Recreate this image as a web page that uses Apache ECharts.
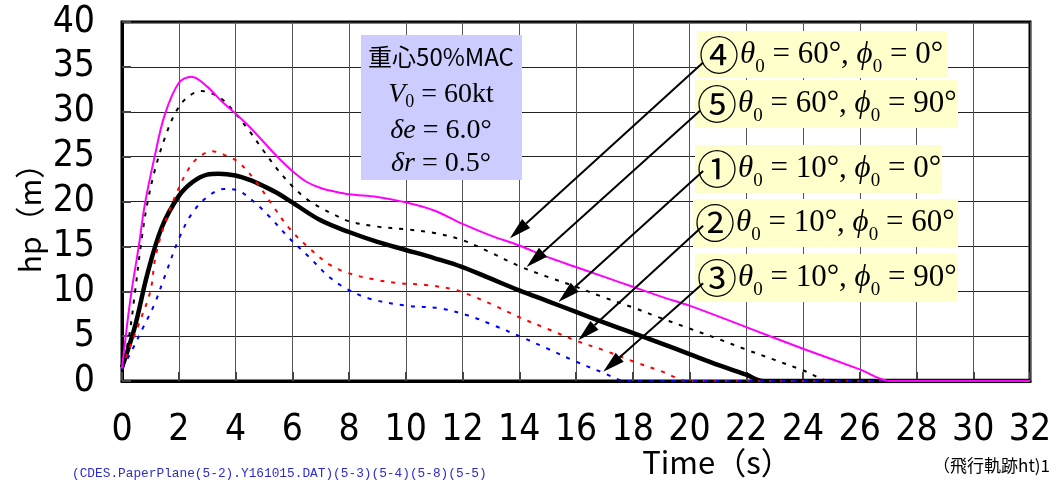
<!DOCTYPE html>
<html>
<head>
<meta charset="utf-8">
<script src="https://cdn.jsdelivr.net/npm/echarts@6/dist/echarts.min.js"></script>
<style>
  html, body { margin: 0; padding: 0; background: #fff; }
  #main { width: 1056px; height: 487px; }
</style>
</head>
<body>
<div id="main"></div>
<script>
// hp (m) vs Time (s), [t, hp] pairs
// ① θ0=10°, φ0=0°  (thick black)
var case1 = [[0,1.5],[0.45,6],[0.9,12],[1.4,17.1],[2,20.6],[2.5,22.2],[3,23],[3.4,23.1],[4,22.9],[4.5,22.4],
  [5,21.7],[5.5,20.9],[6,19.9],[7,17.9],[8,16.6],[9,15.5],[10,14.6],[11,13.7],[12,12.7],[13,11.4],[14,10.1],
  [15,8.9],[16,7.7],[17,6.5],[18,5.35],[19,4.2],[20,3.0],[21,1.8],[22,0.7],[22.6,0],[32,0]];
// ② θ0=10°, φ0=60°  (red dashed)
var case2 = [[0,1.4],[0.2,3.1],[0.55,6],[1,10],[1.16,13.5],[1.4,16.5],[1.64,18.7],[1.93,21],[2.34,23.6],[2.69,24.9],
  [3.16,25.6],[3.6,25.2],[4.1,24.4],[4.7,22.3],[5.3,19.6],[5.9,17],[6.6,14.8],[7.3,13],[7.9,12.1],[8.9,11.3],
  [9.8,10.9],[10.7,10.7],[11.7,10.2],[12.4,9.4],[13.2,8.3],[14,7.1],[15,5.8],[16,4.5],[17,3.4],[18,2.2],[19,1.1],[20,0],[32,0]];
// ③ θ0=10°, φ0=90°  (blue dashed)
var case3 = [[0,1.4],[0.3,3.1],[0.75,6],[1.15,8.6],[1.5,11.6],[2,15.8],[2.45,18.6],[3,20.5],[3.6,21.4],[4.1,21.2],
  [4.6,20.1],[5.2,18.3],[5.9,15.9],[6.6,13.8],[7.3,11.6],[7.9,10.3],[8.7,9.2],[10,8.4],[11.2,8.1],[12.2,7.3],
  [13.1,6.2],[14,5],[15,3.6],[15.9,2.3],[16.9,1],[17.8,0],[32,0]];
// ④ θ0=60°, φ0=0°  (magenta)
var case4 = [[0,1.4],[0.3,9.2],[0.6,15.2],[0.8,19.6],[1.15,25],[1.5,29.6],[2,33.2],[2.45,33.9],[3,32.8],[3.5,31.2],
  [4,29.8],[4.5,28.3],[5,26.6],[5.5,24.9],[6,23.4],[6.5,22.2],[7,21.5],[7.5,21.1],[8,20.8],[9,20.5],[10,19.9],[11,19],
  [12,17.5],[13,16.2],[14,15.1],[15,13.8],[16,12.7],[17,11.6],[18,10.5],[19,9.4],[20,8.4],[22,6],[24,3.6],
  [26,1.3],[27.1,0],[32,0]];
// ⑤ θ0=60°, φ0=90°  (black dashed)
var case5 = [[0,1.4],[0.25,5],[0.45,9.7],[0.7,16],[0.9,19.9],[1.15,23.4],[1.5,27],[1.9,30],[2.3,31.6],[2.8,32.3],
  [3.2,32],[3.6,31.2],[4,29.8],[4.5,27.8],[5,25.6],[5.5,23.5],[6,21.7],[6.5,20.3],[7,19.3],[7.5,18.5],[8,17.8],
  [9,17.2],[10,16.9],[11,16.5],[12,15.7],[13,14.3],[14,12.8],[15,11.6],[16,10.5],[17,9.3],[18,8.2],[19,7],
  [20,5.85],[21,4.7],[22,3.5],[23,2.35],[24,1.2],[25,0],[32,0]];

// legend boxes text and arrows (tail in box, head on curve), data coords
var notes = [
  { num: '④', th: '60°', ph: '0°',  box: [697, 31, 251, 47],  tail: [20.48, 35.5], head: [13.67, 15.9] },
  { num: '⑤', th: '60°', ph: '90°', box: [695, 80, 263, 48],  tail: [20.37, 30.1], head: [14.26, 12.7] },
  { num: '①', th: '10°', ph: '0°',  box: [695, 145, 247, 48], tail: [20.48, 23.4], head: [15.38, 8.8] },
  { num: '②', th: '10°', ph: '60°', box: [693, 199, 265, 48], tail: [20.48, 17.3], head: [16.08, 4.55] },
  { num: '③', th: '10°', ph: '90°', box: [695, 254, 263, 48], tail: [20.48, 10.9], head: [16.96, 1.03] }
];

var labelFont = "'Liberation Sans Narrow', 'DejaVu Sans Condensed', 'Liberation Sans', sans-serif";
var serif = "'Liberation Serif', 'DejaVu Serif', serif";
var cjk = "'Noto Sans CJK JP', sans-serif";

var chart = echarts.init(document.getElementById('main'));

function lineSeries(name, data, color, width, type) {
  return {
    name: name, type: 'line', data: data, smooth: 0.35, showSymbol: false,
    lineStyle: { color: color, width: width, type: type }, z: 3
  };
}

chart.setOption({
  animation: false,
  grid: { left: 122, top: 22, right: 26, bottom: 106, show: true, borderColor: '#000', borderWidth: 3 },
  xAxis: {
    type: 'value', min: 0, max: 32, interval: 2,
    axisLine: { lineStyle: { color: '#000', width: 3 } },
    axisTick: { inside: true, length: 9, lineStyle: { color: '#444', width: 2 } },
    axisLabel: { fontSize: 37, color: '#000', margin: 31, fontFamily: labelFont },
    splitLine: { lineStyle: { color: '#555', width: 1 } }
  },
  yAxis: {
    type: 'value', min: 0, max: 40, interval: 5,
    axisLine: { lineStyle: { color: '#000', width: 3 } },
    axisTick: { inside: true, length: 9, lineStyle: { color: '#444', width: 2 } },
    axisLabel: { fontSize: 37, color: '#000', margin: 27, fontFamily: labelFont },
    splitLine: { lineStyle: { color: '#222', width: 1 } }
  },
  series: [
    lineSeries('①', case1, '#000', 4.5, 'solid'),
    lineSeries('⑤', case5, '#000', 2, [4, 7]),
    lineSeries('②', case2, '#ff0000', 2, [4, 7]),
    lineSeries('③', case3, '#0000ff', 2, [4, 7]),
    lineSeries('④', case4, '#ff00ff', 2, 'solid')
  ]
});

var rich = {
  c: { fontFamily: cjk, fontSize: 40, lineHeight: 44, padding: [0, 1, 0, 0] },
  it: { fontFamily: serif, fontStyle: 'italic', fontSize: 31, lineHeight: 40 },
  sub: { fontFamily: serif, fontSize: 19, lineHeight: 34, verticalAlign: 'bottom' },
  rm: { fontFamily: serif, fontSize: 31, lineHeight: 40 }
};

var graphics = [];

// info box
graphics.push({ type: 'rect', shape: { x: 361, y: 35, width: 161, height: 145 }, style: { fill: '#ccccff' }, z: 10 });
graphics.push({ type: 'text', x: 441, y: 57, z: 11,
  style: { text: '重心50%MAC', font: "24px 'Noto Sans CJK JP'", fill: '#000', align: 'center', verticalAlign: 'middle' } });
var infoRich = {
  it: { fontFamily: serif, fontStyle: 'italic', fontSize: 28, lineHeight: 32 },
  sub: { fontFamily: serif, fontSize: 18, lineHeight: 28, verticalAlign: 'bottom' },
  rm: { fontFamily: serif, fontSize: 28, lineHeight: 32 }
};
[['{it|V}{sub|0}{rm| = 60kt}', 95], ['{it|δe}{rm| = 6.0°}', 131], ['{it|δr}{rm| = 0.5°}', 164]].forEach(function (l) {
  graphics.push({ type: 'text', x: 441, y: l[1], z: 11,
    style: { text: l[0], rich: infoRich, fill: '#000', align: 'center', verticalAlign: 'middle' } });
});

// legend boxes with arrows
notes.forEach(function (n) {
  graphics.push({ type: 'rect', shape: { x: n.box[0], y: n.box[1], width: n.box[2], height: n.box[3] },
    style: { fill: '#ffffcc' }, z: 10 });
  graphics.push({ type: 'text', x: n.box[0] + 2, y: n.box[1] + n.box[3] / 2, z: 11,
    style: {
      text: '{c|' + n.num + '}{it|θ}{sub|0}{rm| = ' + n.th + ', }{it|ϕ}{sub|0}{rm| = ' + n.ph + '}',
      rich: rich, fill: '#000', align: 'left', verticalAlign: 'middle'
    } });
  var p0 = chart.convertToPixel({ gridIndex: 0 }, n.tail);
  var p1 = chart.convertToPixel({ gridIndex: 0 }, n.head);
  var dx = p1[0] - p0[0], dy = p1[1] - p0[1];
  var len = Math.sqrt(dx * dx + dy * dy);
  var ux = dx / len, uy = dy / len;
  var hl = 22, hw = 6;
  var bx = p1[0] - ux * hl, by = p1[1] - uy * hl;
  graphics.push({ type: 'line', z: 12,
    shape: { x1: p0[0], y1: p0[1], x2: bx, y2: by }, style: { stroke: '#000', lineWidth: 2 } });
  graphics.push({ type: 'polygon', z: 12,
    shape: { points: [[p1[0], p1[1]], [bx - uy * hw, by + ux * hw], [bx + uy * hw, by - ux * hw]] },
    style: { fill: '#000' } });
});

// axis names and footer
graphics.push({ type: 'text', x: 30, y: 211, rotation: Math.PI / 2, z: 11,
  style: { text: 'hp（m）', font: "30px 'Noto Sans CJK JP'", fill: '#000', align: 'center', verticalAlign: 'middle' } });
graphics.push({ type: 'text', x: 717, y: 462, z: 11,
  style: { text: 'Time（s）', font: "31px 'Noto Sans CJK JP'", fill: '#000', align: 'center', verticalAlign: 'middle' } });
graphics.push({ type: 'text', x: 72, y: 474, z: 11,
  style: { text: '(CDES.PaperPlane(5-2).Y161015.DAT)(5-3)(5-4)(5-8)(5-5)', font: "12.8px 'Liberation Mono'",
    fill: '#2b2bd0', align: 'left', verticalAlign: 'middle' } });
graphics.push({ type: 'text', x: 1050, y: 466, z: 11,
  style: { text: '（飛行軌跡ht)1', font: "17px 'Noto Sans CJK JP'", fill: '#000', align: 'right', verticalAlign: 'middle' } });

chart.setOption({ graphic: graphics });
</script>
</body>
</html>
